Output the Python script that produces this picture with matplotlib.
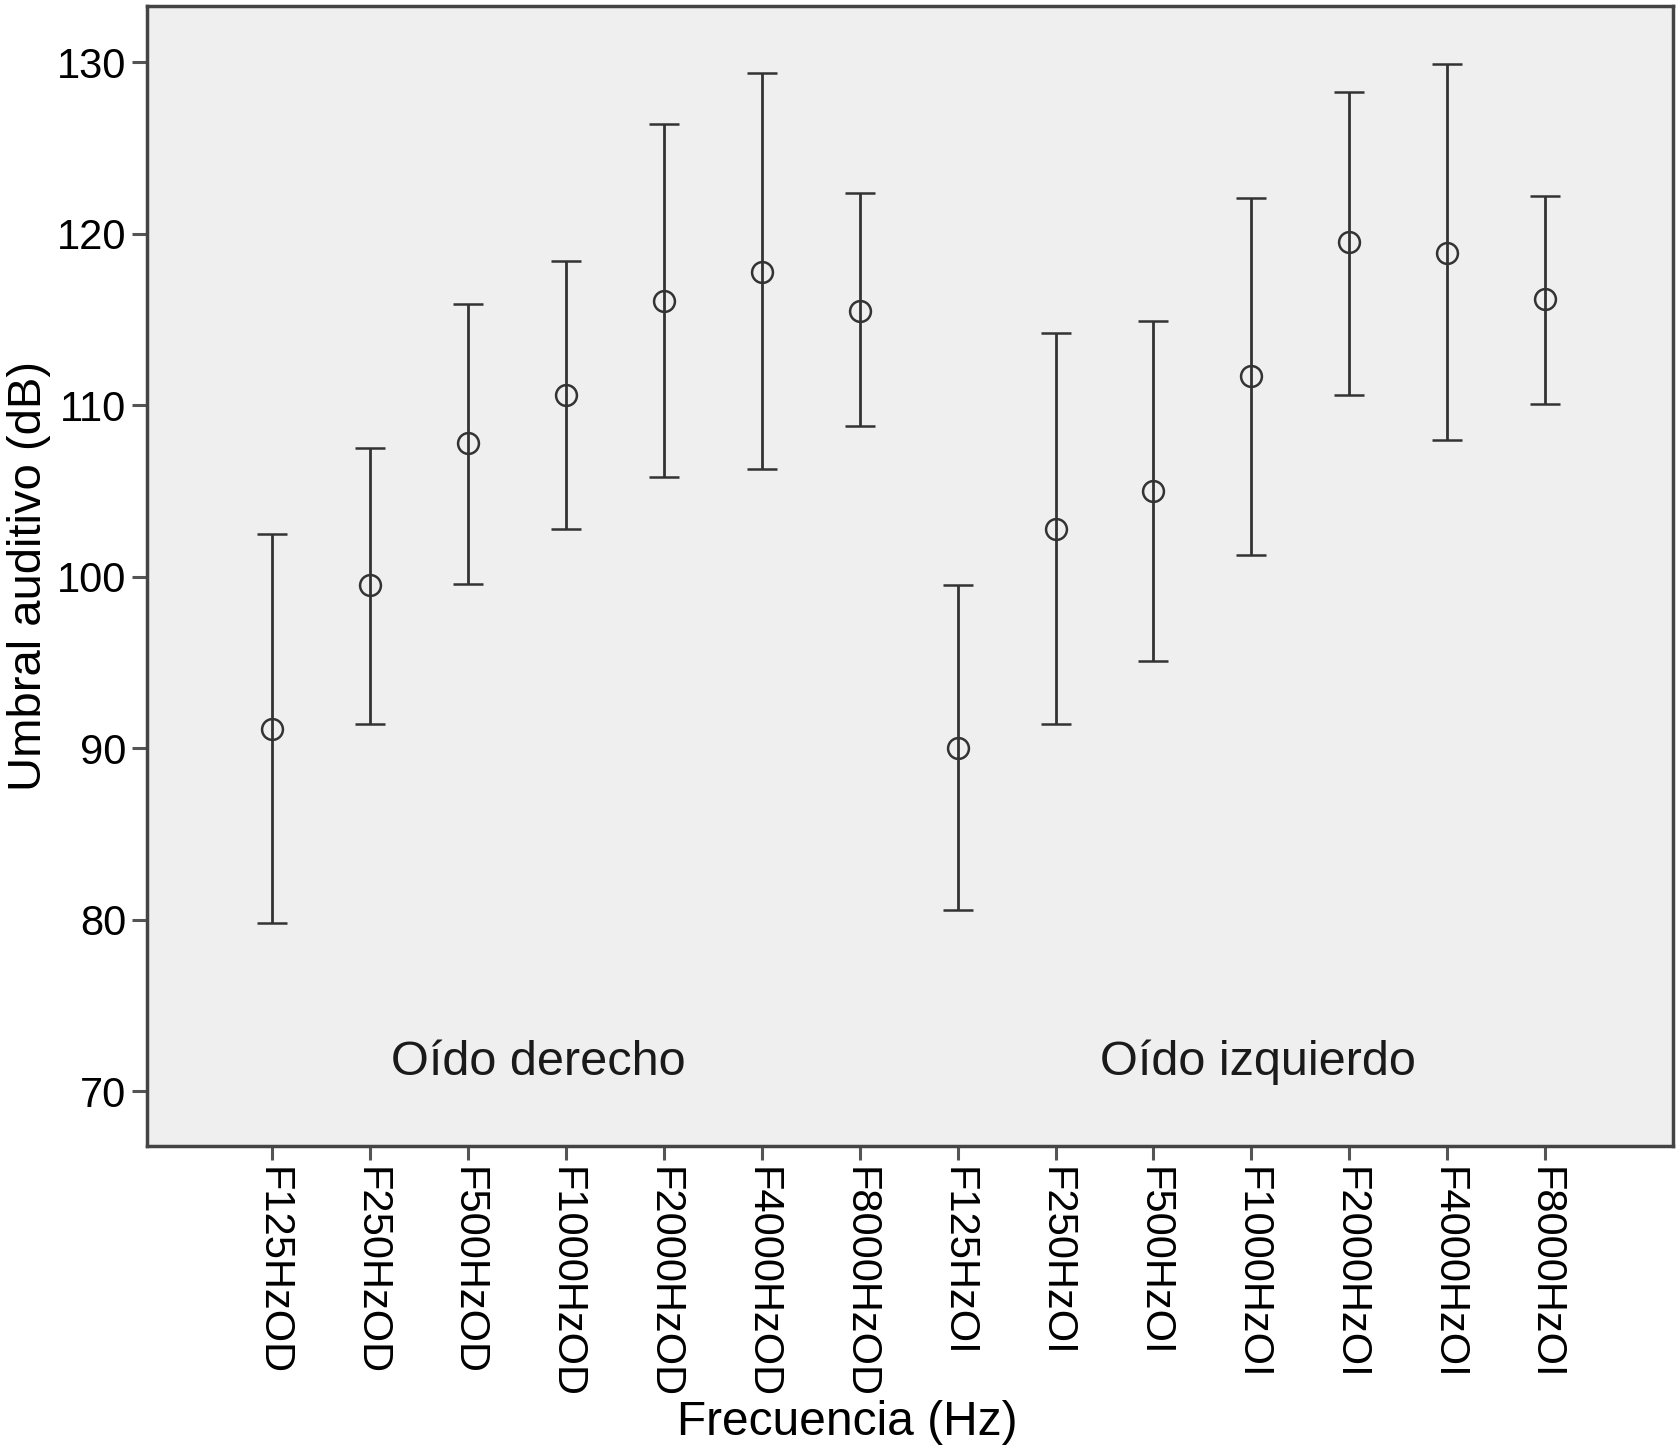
import numpy as np
import matplotlib
matplotlib.use("Agg")
import matplotlib.pyplot as plt

# Frequency categories (right ear OD, left ear OI)
categories = ["F125HzOD", "F250HzOD", "F500HzOD", "F1000HzOD", "F2000HzOD",
              "F4000HzOD", "F8000HzOD", "F125HzOI", "F250HzOI", "F500HzOI",
              "F1000HzOI", "F2000HzOI", "F4000HzOI", "F8000HzOI"]

# Mean hearing threshold (dB)
means = [91.1, 99.5, 107.8, 110.6, 116.1, 117.8, 115.5,
         90.0, 102.8, 105.0, 111.7, 119.5, 118.9, 116.2]

# Upper and lower limits of the error bars (dB)
upper = [102.5, 107.5, 115.9, 118.4, 126.4, 129.4, 122.4,
         99.5, 114.2, 114.9, 122.1, 128.3, 129.9, 122.2]
lower = [79.8, 91.4, 99.6, 102.8, 105.8, 106.3, 108.8,
         80.6, 91.4, 95.1, 101.3, 110.6, 108.0, 110.1]

plt.rcParams['font.family'] = ['Liberation Sans', 'DejaVu Sans']

fig = plt.figure(figsize=(16.8, 14.49), dpi=100)
ax = fig.add_axes([0.0875, 0.209, 0.9085, 0.787])
ax.set_facecolor("#efefef")

x = np.arange(len(categories))
m = np.array(means)
yerr = np.vstack([m - np.array(lower), np.array(upper) - m])

ax.errorbar(x, m, yerr=yerr, fmt="o", mfc="none", mec="#333333",
            ms=15, mew=1.8, ecolor="#333333", elinewidth=2.0,
            capsize=11, capthick=2.2)

ax.set_xlim(-1.28, 14.31)
ax.set_ylim(66.8, 133.3)
ax.set_yticks([70, 80, 90, 100, 110, 120, 130])
ax.set_xticks(x)
ax.set_xticklabels(categories, rotation=-90, fontsize=30)
ax.tick_params(axis="y", labelsize=30, length=11, width=2.2, color="#555555", pad=4)
ax.tick_params(axis="x", length=10, width=2.2, color="#555555", pad=5)

for spine in ax.spines.values():
    spine.set_color("#444444")
    spine.set_linewidth(2.5)

ax.text(2.72, 71.7, "Oído derecho", fontsize=35, ha="center", va="center", color="#1a1a1a")
ax.text(10.07, 71.7, "Oído izquierdo", fontsize=35, ha="center", va="center", color="#1a1a1a")

ax.set_ylabel("Umbral auditivo (dB)", fontsize=34, labelpad=4)
ax.set_xlabel("Frecuencia (Hz)", fontsize=34.5, labelpad=1)
ax.xaxis.label.set_x(0.459)

fig.savefig("out.png", dpi=100)
